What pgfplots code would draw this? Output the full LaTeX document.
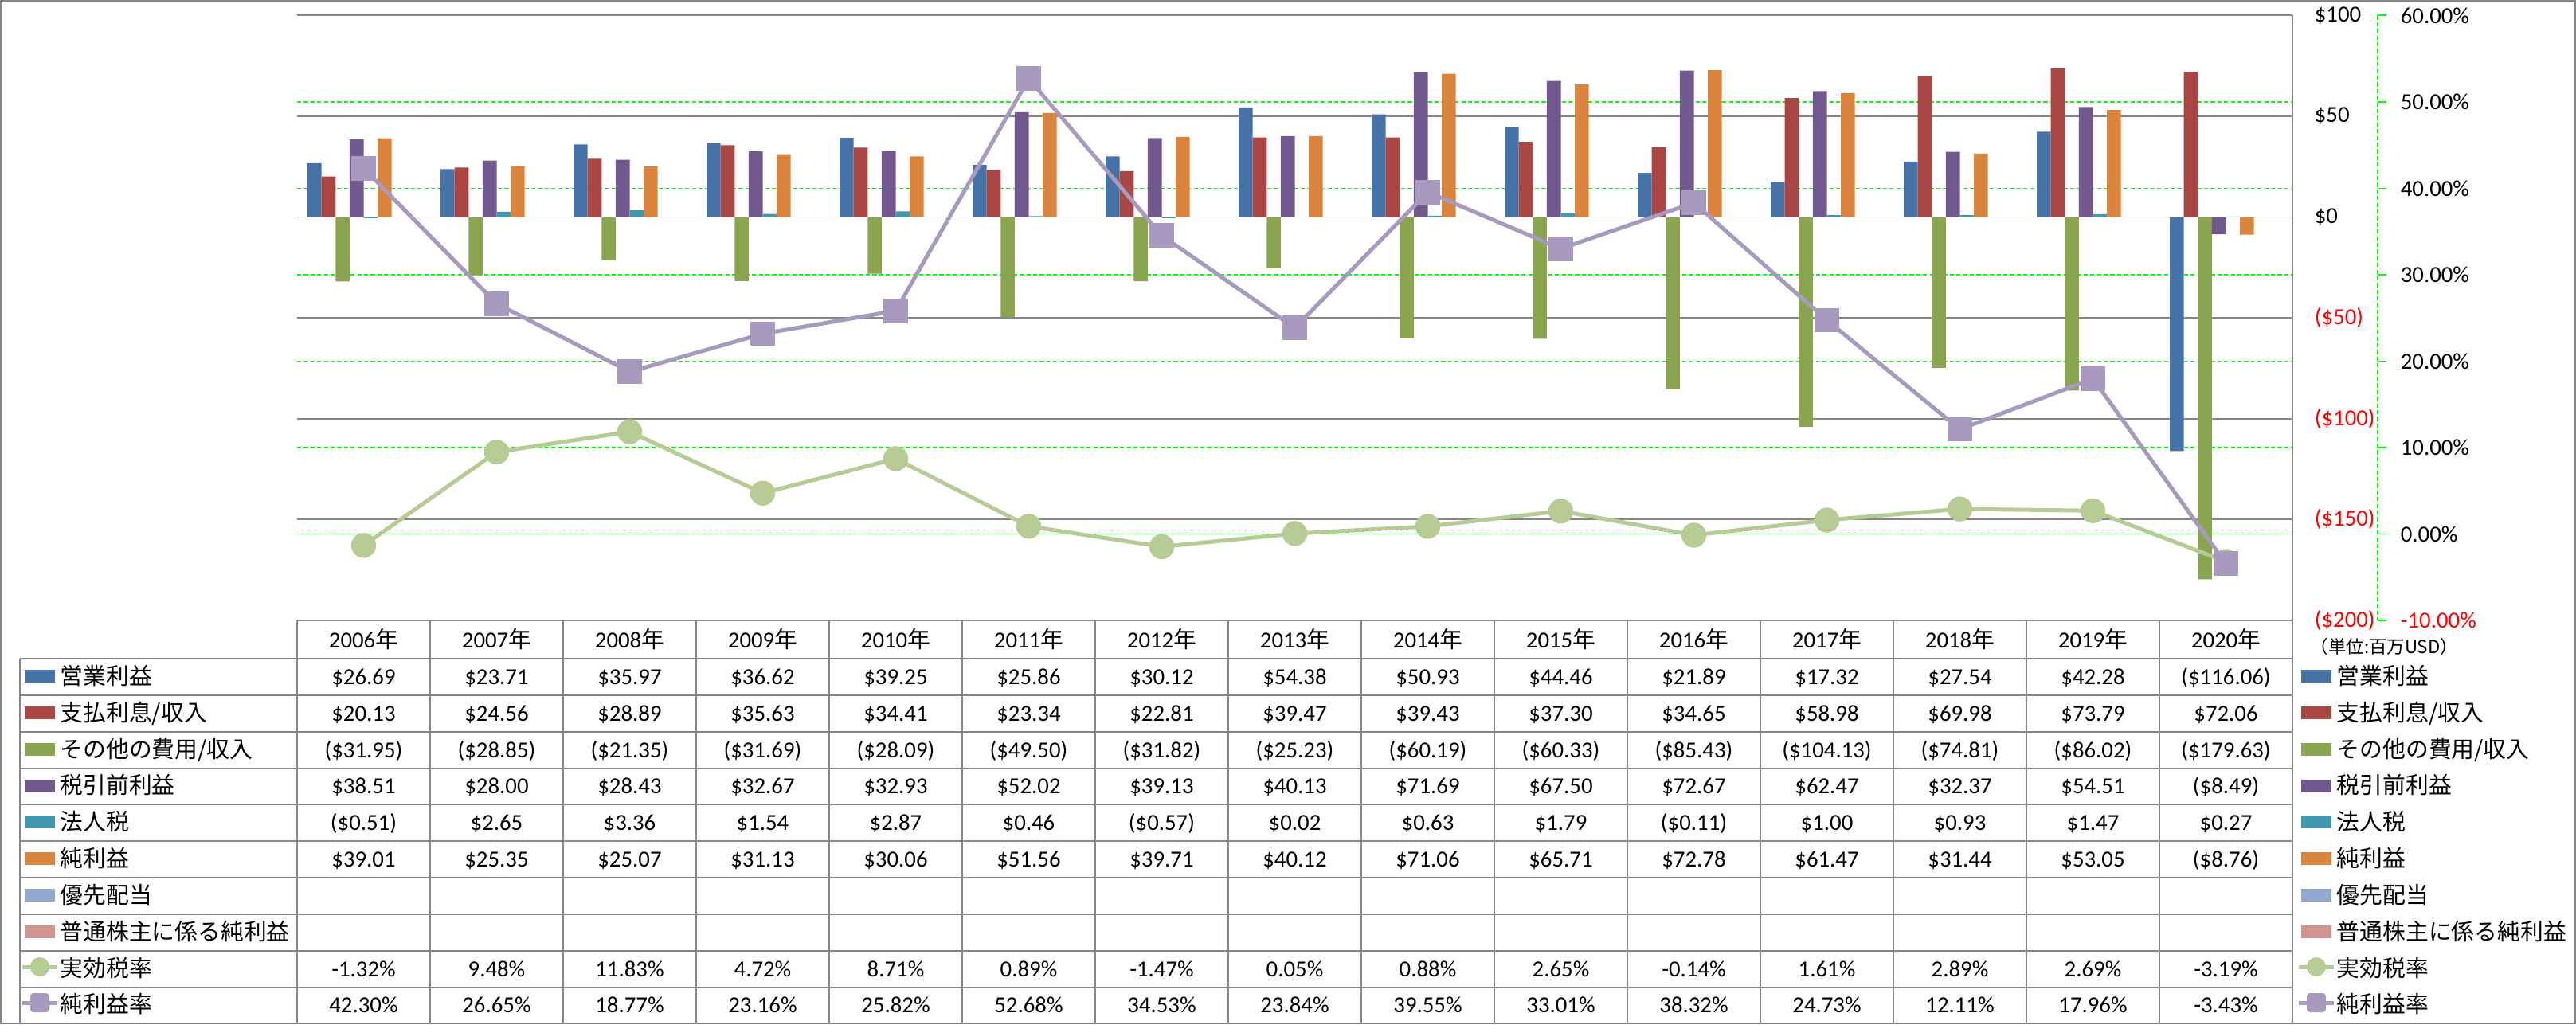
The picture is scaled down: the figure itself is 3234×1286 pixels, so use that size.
\documentclass[border=0pt]{standalone}
\usepackage{fontspec}
\setmainfont{Carlito}
\newfontfamily\jp{Noto Sans CJK JP}
\usepackage{pgfplots}
\pgfplotsset{compat=1.18}
\usepackage{pgfplotstable}
\definecolor{cA}{HTML}{4572A7}
\definecolor{cB}{HTML}{AA4643}
\definecolor{cC}{HTML}{89A54E}
\definecolor{cD}{HTML}{71588F}
\definecolor{cE}{HTML}{4198AF}
\definecolor{cF}{HTML}{DB843D}
\definecolor{cG}{HTML}{93A9CF}
\definecolor{cH}{HTML}{D19392}
\definecolor{cEtr}{HTML}{B7CC95}
\definecolor{cNpm}{HTML}{A79ABE}
\definecolor{gridgray}{HTML}{868686}
\definecolor{gridgreen}{HTML}{00FF00}
\newcommand\tabfont{\fontsize{7.2pt}{8.6pt}\selectfont}

\pgfplotstableread{
x op int oth pre tax net etr npm
0 26.69 20.13 -31.95 38.51 -0.51 39.01 -1.32 42.30
1 23.71 24.56 -28.85 28.00 2.65 25.35 9.48 26.65
2 35.97 28.89 -21.35 28.43 3.36 25.07 11.83 18.77
3 36.62 35.63 -31.69 32.67 1.54 31.13 4.72 23.16
4 39.25 34.41 -28.09 32.93 2.87 30.06 8.71 25.82
5 25.86 23.34 -49.50 52.02 0.46 51.56 0.89 52.68
6 30.12 22.81 -31.82 39.13 -0.57 39.71 -1.47 34.53
7 54.38 39.47 -25.23 40.13 0.02 40.12 0.05 23.84
8 50.93 39.43 -60.19 71.69 0.63 71.06 0.88 39.55
9 44.46 37.30 -60.33 67.50 1.79 65.71 2.65 33.01
10 21.89 34.65 -85.43 72.67 -0.11 72.78 -0.14 38.32
11 17.32 58.98 -104.13 62.47 1.00 61.47 1.61 24.73
12 27.54 69.98 -74.81 32.37 0.93 31.44 2.89 12.11
13 42.28 73.79 -86.02 54.51 1.47 53.05 2.69 17.96
14 -116.06 72.06 -179.63 -8.49 0.27 -8.76 -3.19 -3.43
}\data

\pgfplotsset{
  base/.style={at={(93.25pt,-4.825pt)}, anchor=north west, scale only axis,
    width=626.25pt, height=189.925pt, xmin=-0.5, xmax=14.5, xtick=\empty,
    axis line style={draw=none}, major tick length=0pt,
    yticklabel pos=right,
    yticklabel style={anchor=west, inner sep=0pt, font=\tabfont}},
}

\newcommand\rowvals[2]{%
  \foreach \v [count=\i from 0] in {#2} {%
    \node[anchor=base, inner sep=0pt, font=\tabfont] at ({373+167*(\i+0.5)},{#1+9}) {\v};}}

\newcommand\legrow[3]{%
  \fill[#2] (31,#1-9) rectangle (69,#1+7);
  \node[anchor=base west, inner sep=0pt, font=\tabfont\jp] at (75,#1+9) {#3};
  \fill[#2] (2889,#1-9) rectangle (2927,#1+7);
  \node[anchor=base west, inner sep=0pt, font=\tabfont\jp] at (2933,#1+9) {#3};}

\begin{document}
\begin{tikzpicture}[x=0.25pt,y=-0.25pt]
\useasboundingbox (0,0) rectangle (3234,1286);

% percentage grid and labels
\begin{axis}[base, ymin=-10, ymax=60, ytick={-10,0,10,20,30,40,50,60},
  yticklabels={{\color{red}-10.00\%},0.00\%,10.00\%,20.00\%,30.00\%,40.00\%,50.00\%,60.00\%},
  yticklabel style={xshift=33.75pt},
  ymajorgrids, grid style={draw=gridgreen, line width=0.4pt, dash pattern=on 1.3pt off 0.8pt}]
\end{axis}

% dollar axis with bars
\begin{axis}[base, ymin=-200, ymax=100, ytick={-200,-150,-100,-50,0,50,100},
  yticklabels={{\color{red}(\$200)},{\color{red}(\$150)},{\color{red}(\$100)},{\color{red}(\$50)},\$0,\$50,\$100},
  yticklabel style={xshift=6.75pt},
  ymajorgrids, grid style={draw=gridgray, line width=0.45pt}]
\addplot[ybar, bar width=4.4pt, bar shift=-15.4pt, fill=cA, draw=none] table[x=x,y=op]{\data};
\addplot[ybar, bar width=4.4pt, bar shift=-11.0pt, fill=cB, draw=none] table[x=x,y=int]{\data};
\addplot[ybar, bar width=4.4pt, bar shift=-6.6pt, fill=cC, draw=none] table[x=x,y=oth]{\data};
\addplot[ybar, bar width=4.4pt, bar shift=-2.2pt, fill=cD, draw=none] table[x=x,y=pre]{\data};
\addplot[ybar, bar width=4.4pt, bar shift=2.2pt, fill=cE, draw=none] table[x=x,y=tax]{\data};
\addplot[ybar, bar width=4.4pt, bar shift=6.6pt, fill=cF, draw=none] table[x=x,y=net]{\data};
\end{axis}

% percentage lines
\begin{axis}[base, ymin=-10, ymax=60, hide axis, clip=false]
\addplot[color=cEtr, line width=1.25pt, mark=*, mark size=3.3pt, mark options={fill=cEtr, draw=none}] table[x=x,y=etr]{\data};
\addplot[color=cNpm, line width=1.25pt, mark=square*, mark size=3.2pt, mark options={fill=cNpm, draw=none, rounded corners=1pt}] table[x=x,y=npm]{\data};
\end{axis}

% secondary axis line with ticks
\draw[gridgreen, line width=0.4pt, dash pattern=on 1.3pt off 0.8pt] (2985,19.3) -- (2985,779);
\foreach \t in {0,...,7} {\draw[gridgreen, line width=0.4pt] (2985,{779-\t*108.53}) -- (2996,{779-\t*108.53});}

% plot right border
\draw[gridgray, line width=0.45pt] (2878,19.3) -- (2878,1284);

% table grid
\draw[gridgray, line width=0.4pt] (373,779) -- (2878,779);
\foreach \yy in {827,873,919,965,1010,1056,1102,1148,1194,1240} {\draw[gridgray, line width=0.4pt] (25,\yy) -- (2878,\yy);}
\draw[gridgray, line width=0.4pt] (25,827) -- (25,1284);
\foreach \k in {0,...,14} {\draw[gridgray, line width=0.4pt] ({373+167*\k},779) -- ({373+167*\k},1284);}

% header
\foreach \yr [count=\i from 0] in {2006,2007,2008,2009,2010,2011,2012,2013,2014,2015,2016,2017,2018,2019,2020} {%
  \node[anchor=base, inner sep=0pt, font=\tabfont] at ({373+167*(\i+0.5)},813) {\yr{\jp 年}};}

% values
\rowvals{850}{\$26.69,\$23.71,\$35.97,\$36.62,\$39.25,\$25.86,\$30.12,\$54.38,\$50.93,\$44.46,\$21.89,\$17.32,\$27.54,\$42.28,(\$116.06)}
\rowvals{896}{\$20.13,\$24.56,\$28.89,\$35.63,\$34.41,\$23.34,\$22.81,\$39.47,\$39.43,\$37.30,\$34.65,\$58.98,\$69.98,\$73.79,\$72.06}
\rowvals{942}{(\$31.95),(\$28.85),(\$21.35),(\$31.69),(\$28.09),(\$49.50),(\$31.82),(\$25.23),(\$60.19),(\$60.33),(\$85.43),(\$104.13),(\$74.81),(\$86.02),(\$179.63)}
\rowvals{987.5}{\$38.51,\$28.00,\$28.43,\$32.67,\$32.93,\$52.02,\$39.13,\$40.13,\$71.69,\$67.50,\$72.67,\$62.47,\$32.37,\$54.51,(\$8.49)}
\rowvals{1033}{(\$0.51),\$2.65,\$3.36,\$1.54,\$2.87,\$0.46,(\$0.57),\$0.02,\$0.63,\$1.79,(\$0.11),\$1.00,\$0.93,\$1.47,\$0.27}
\rowvals{1079}{\$39.01,\$25.35,\$25.07,\$31.13,\$30.06,\$51.56,\$39.71,\$40.12,\$71.06,\$65.71,\$72.78,\$61.47,\$31.44,\$53.05,(\$8.76)}
\rowvals{1217}{-1.32\%,9.48\%,11.83\%,4.72\%,8.71\%,0.89\%,-1.47\%,0.05\%,0.88\%,2.65\%,-0.14\%,1.61\%,2.89\%,2.69\%,-3.19\%}
\rowvals{1262}{42.30\%,26.65\%,18.77\%,23.16\%,25.82\%,52.68\%,34.53\%,23.84\%,39.55\%,33.01\%,38.32\%,24.73\%,12.11\%,17.96\%,-3.43\%}

% unit note
\node[anchor=base west, inner sep=0pt, font=\fontsize{5.6pt}{6.5pt}\selectfont\jp] at (2900,820) {（単位:百万USD）};

% legend keys and names (left column and right legend)
\legrow{850}{cA}{営業利益}
\legrow{896}{cB}{支払利息/収入}
\legrow{942}{cC}{その他の費用/収入}
\legrow{987.5}{cD}{税引前利益}
\legrow{1033}{cE}{法人税}
\legrow{1079}{cF}{純利益}
\legrow{1125}{cG}{優先配当}
\legrow{1171}{cH}{普通株主に係る純利益}
\foreach \xa/\xm/\xb/\xt in {28/50/72/75, 2886/2908/2930/2933} {%
  \draw[cEtr, line width=1.25pt] (\xa,1214) -- (\xb,1214);
  \fill[cEtr] (\xm,1214) circle (12);
  \node[anchor=base west, inner sep=0pt, font=\tabfont\jp] at (\xt,1226) {実効税率};
  \draw[cNpm, line width=1.25pt] (\xa,1259) -- (\xb,1259);
  \fill[cNpm, rounded corners=1pt] (\xm-12,1247) rectangle (\xm+12,1271);
  \node[anchor=base west, inner sep=0pt, font=\tabfont\jp] at (\xt,1271) {純利益率};
}

% outer border
\draw[gridgray, line width=0.5pt] (1,1) rectangle (3233,1285);
\end{tikzpicture}
\end{document}
